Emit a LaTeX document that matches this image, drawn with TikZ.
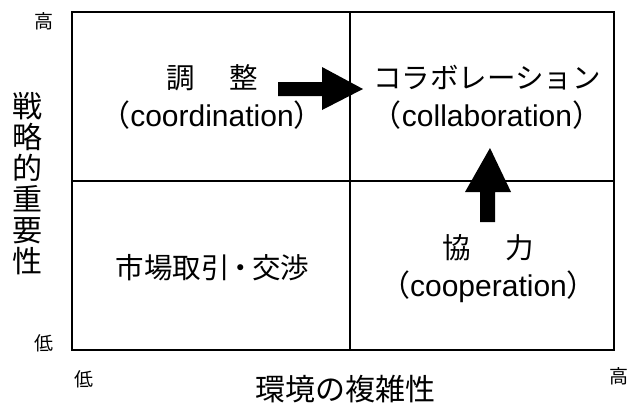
\documentclass[tikz,border=0pt]{standalone}
\usepackage{fontspec}
\setmainfont{Liberation Sans}
\newfontfamily\cjk{Noto Sans CJK JP}
\begin{document}
\begin{tikzpicture}[x=1pt,y=-1pt,
  lbl/.style={inner sep=0pt,anchor=center},
  latin/.style={lbl,font=\fontsize{30}{34}\selectfont},
  jp/.style={lbl,font=\cjk\fontsize{28.5}{32}\selectfont},
  small/.style={lbl,font=\cjk\fontsize{19}{22}\selectfont},
  blockarrow/.style={fill=black,draw=none}]
\useasboundingbox (0,0) rectangle (631,405);
% frame
\draw[line width=1.3pt] (72,12) rectangle (614,350);
\draw[line width=1.3pt] (350,12) -- (350,350);
\draw[line width=1.3pt] (72,181) -- (614,181);
% axis end labels
\node[small] (yh) at (44,21) {高};
\node[small] (yl) at (44,343) {低};
\node[small] (xl) at (84,379) {低};
\node[small] (xh) at (619,376) {高};
% axis titles
\node[lbl,align=center,font=\cjk\fontsize{30}{31}\selectfont] (ytitle) at (27.5,184) {戦\\略\\的\\重\\要\\性};
\node[lbl,font=\cjk\fontsize{30}{32}\selectfont] (xtitle) at (345,389) {環境の複雑性};
% quadrants
\node[jp] (coordj) at (212,78) {調\hspace{1.2em}整};
\node[latin] (coorde) at (212,115) {{\cjk （}coordination{\cjk ）}};
\node[jp] (collj) at (487,78) {コラボレーション};
\node[latin] (colle) at (487,115) {{\cjk （}collaboration{\cjk ）}};
\node[jp] (market) at (212.5,268) {市場取引\kern-0.1em・\kern-0.1em交渉};
\node[jp] (coopj) at (488,248) {協\hspace{1.2em}力};
\node[latin] (coope) at (488.5,287) {{\cjk （}cooperation{\cjk ）}};
% block arrows
\fill[blockarrow] (278,82) -- (322,82) -- (322,67) -- (363,89) -- (322,110) -- (322,96) -- (278,96) -- cycle;
\fill[blockarrow] (480,222) -- (480,192) -- (465,192) -- (490,148) -- (511,192) -- (495,192) -- (495,222) -- cycle;
\end{tikzpicture}
\end{document}
